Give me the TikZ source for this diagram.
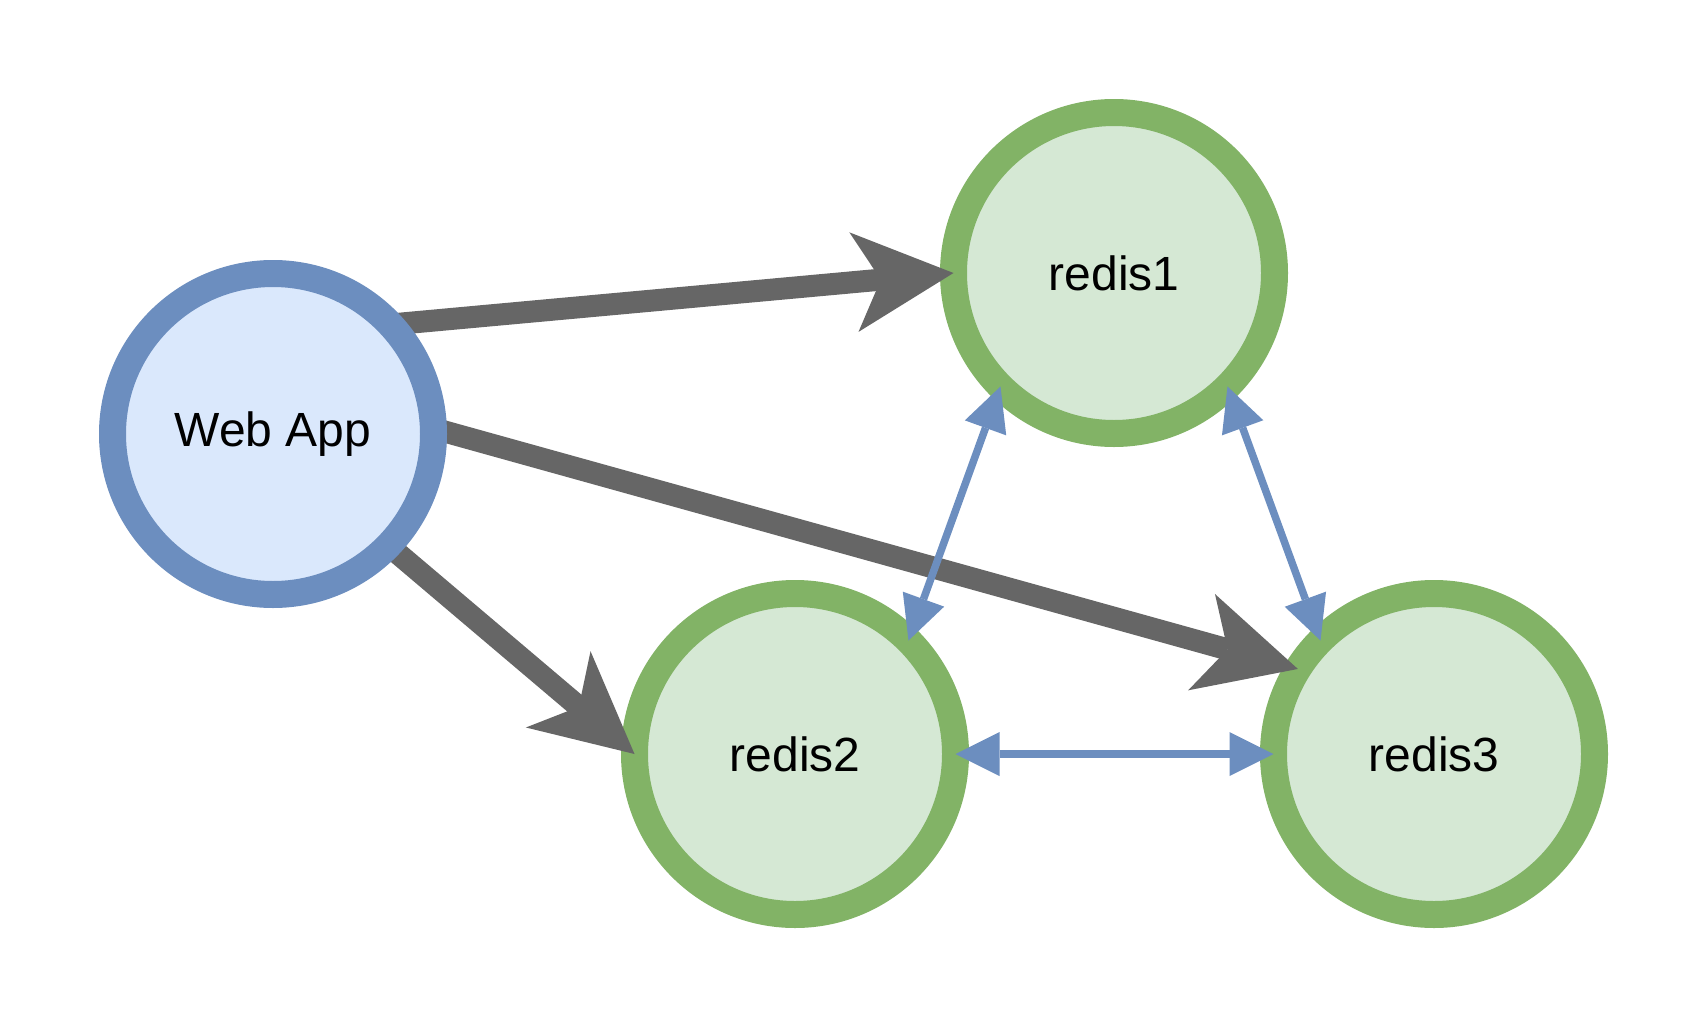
\documentclass[tikz,border=0pt]{standalone}
\usepackage{fontspec}
\setmainfont{Liberation Sans}
\usetikzlibrary{arrows.meta}

\definecolor{appfill}{HTML}{DAE8FC}
\definecolor{appline}{HTML}{6C8EBF}
\definecolor{redisfill}{HTML}{D5E8D4}
\definecolor{redisline}{HTML}{82B366}
\definecolor{connline}{HTML}{666666}

\pgfdeclarelayer{front}
\pgfsetlayers{main,front}

\begin{document}
\begin{tikzpicture}[x=0.5pt, y=-0.5pt,
  app/.style={circle, draw=appline, fill=appfill, line width=13.5pt, minimum size=160.5pt, inner sep=0pt, outer sep=0pt, font=\fontsize{24}{29}\selectfont},
  redis/.style={app, draw=redisline, fill=redisfill},
  conn/.style={draw=connline, line width=11pt, -{Stealth[length=50pt, width=50pt, inset=13.5pt, line width=0pt]}},
  sync/.style={draw=appline, line width=3.75pt, {Triangle[length=22pt, width=22pt, line width=0pt]}-{Triangle[length=22pt, width=22pt, line width=0pt]}}]

  \useasboundingbox (0,0) rectangle (1708,1028);

  \node[redis] (B) at (1114,273) {redis1};
  \node[redis] (C) at (795,754) {redis2};
  \node[redis] (D) at (1434,754) {redis3};
  \begin{pgfonlayer}{front}
    \node[app] (A) at (273,434) {Web App};
  \end{pgfonlayer}

  \draw[conn] (A.43) -- (B.west);
  \draw[conn] (A.2) -- (D.148);
  \draw[conn] (A.-44) -- (C.west);

  \draw[sync] (B.225) -- (C.45);
  \draw[sync] (B.-45) -- (D.135);
  \draw[sync] (C.east) -- (D.west);

\end{tikzpicture}
\end{document}
